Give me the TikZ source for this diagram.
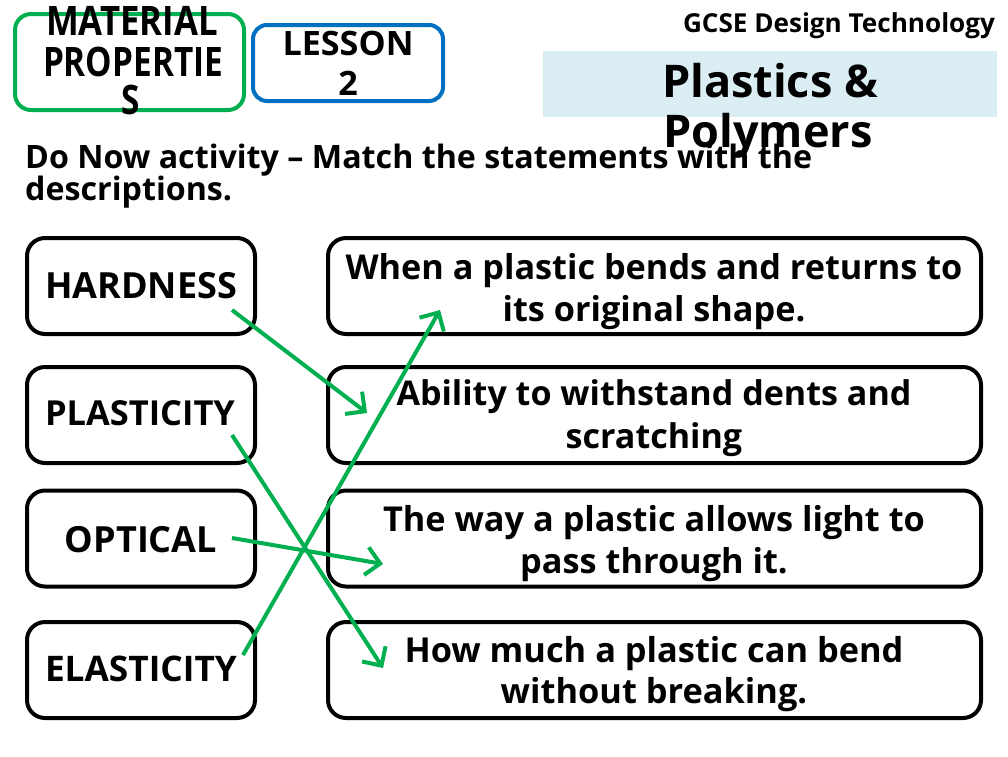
\documentclass[tikz,border=0pt]{standalone}
\usepackage{fontspec}
\usepackage{graphicx}
\setmainfont{Open Sans}
\usetikzlibrary{arrows.meta}
\definecolor{mygreen}{HTML}{00B050}
\definecolor{myblue}{HTML}{0070C0}
\definecolor{lightbluefill}{HTML}{DAEEF3}
\newsavebox\mymeasurebox
\newlength\mycapdim
% scale #3 by the factor that makes #2 exactly #1 pt wide
\newcommand\grpfit[3]{\sbox\mymeasurebox{#2}\pgfmathsetmacro\myfitfac{#1/\wd\mymeasurebox}\scalebox{\myfitfac}{#3}}
\newcommand\wfit[2]{\grpfit{#1}{#2}{#2}}
% width of #3 -> #1 pt, cap height -> #2 pt, applied to #4
\newcommand\grpfitxy[4]{\sbox\mymeasurebox{#3}\setlength\mycapdim{\fontcharht\font`H}%
  \pgfmathsetmacro\myfx{#1/\wd\mymeasurebox}\pgfmathsetmacro\myfy{#2/\mycapdim}\scalebox{\myfx}[\myfy]{#4}}
\begin{document}
\begin{tikzpicture}[x=1pt,y=-1pt,
  boxstyle/.style={draw=black,line width=4pt,rounded corners=18pt,inner sep=0pt},
  txt/.style={font=\bfseries\fontsize{30}{30}\selectfont,inner sep=0pt,anchor=base},
  matcharrow/.style={draw=mygreen,line width=4pt,-{Straight Barb[length=14pt,width=28pt]}}]
\useasboundingbox (0,0) rectangle (1008,756);
\fill[white] (0,0) rectangle (1008,756);
% header
\node[draw=mygreen,line width=4pt,rounded corners=16pt,minimum width=229pt,minimum height=96pt,inner sep=0pt] (matbox) at (129.5,62) {};
\node[txt] (mat1) at (132,35) {\grpfitxy{172}{29}{MATERIAL}{MATERIAL}};
\node[txt] (mat2) at (133,76) {\grpfitxy{180}{29}{PROPERTIE}{PROPERTIE}};
\node[txt] (mat3) at (131,114) {\grpfitxy{180}{29}{PROPERTIE}{S}};
\node[draw=myblue,line width=4pt,rounded corners=14pt,minimum width=190pt,minimum height=76pt,inner sep=0pt] (lesbox) at (348,63) {};
\node[txt] (les1) at (348,55) {\grpfitxy{131}{24}{LESSON}{LESSON}};
\node[txt] (les2) at (348,95) {\grpfitxy{131}{24}{LESSON}{2}};
\node[txt] (gcse) at (839,32) {\wfit{312}{GCSE Design Technology}};
\node[fill=lightbluefill,minimum width=454pt,minimum height=66pt,inner sep=0pt] (titlebg) at (770,84) {};
\node[txt] (pl1) at (770,97) {\wfit{216}{Plastics \&}};
% do now
\node[txt,anchor=base west] (do1) at (25,168) {\wfit{787}{Do Now activity – Match the statements with the}};
\node[txt,anchor=base west] (do2) at (25,200) {\grpfit{787}{Do Now activity – Match the statements with the}{descriptions.}};
\node[txt] (pl2) at (768,147) {\grpfit{216}{Plastics \&}{Polymers}};
% left boxes
\node[boxstyle,minimum width=228pt,minimum height=96pt] (L1) at (141,286) {};
\node[boxstyle,minimum width=228pt,minimum height=96pt] (L2) at (141,415) {};
\node[boxstyle,minimum width=228pt,minimum height=96pt] (L3) at (141,538.5) {};
\node[boxstyle,minimum width=228pt,minimum height=96pt] (L4) at (141,670) {};
\node[txt] (t1) at (141,298) {\wfit{192}{HARDNESS}};
\node[txt] (t2) at (140,425) {\wfit{190}{PLASTICITY}};
\node[txt] (t3) at (141,552) {\grpfit{192}{HARDNESS}{OPTICAL}};
\node[txt] (t4) at (141,681) {\wfit{192}{ELASTICITY}};
% right boxes
\node[boxstyle,minimum width=653pt,minimum height=96pt] (R1) at (654.5,286) {};
\node[boxstyle,minimum width=653pt,minimum height=96pt] (R2) at (654.5,415) {};
\node[boxstyle,minimum width=653pt,minimum height=96pt] (R3) at (654.5,538.5) {};
\node[boxstyle,minimum width=653pt,minimum height=96pt] (R4) at (654.5,670) {};
\node[txt] (r1a) at (654,279) {\wfit{617}{When a plastic bends and returns to}};
\node[txt] (r1b) at (654,321) {\grpfit{617}{When a plastic bends and returns to}{its original shape.}};
\node[txt] (r2a) at (654,405) {\wfit{515}{Ability to withstand dents and}};
\node[txt] (r2b) at (654,448) {\grpfit{515}{Ability to withstand dents and}{scratching}};
\node[txt] (r3a) at (654,531) {\wfit{542}{The way a plastic allows light to}};
\node[txt] (r3b) at (654,573) {\grpfit{542}{The way a plastic allows light to}{pass through it.}};
\node[txt] (r4a) at (654,662) {\wfit{499}{How much a plastic can bend}};
\node[txt] (r4b) at (654,703) {\grpfit{499}{How much a plastic can bend}{without breaking.}};
% arrow ends
\coordinate (s1) at (232,310);
\coordinate (e1) at (367,413);
\coordinate (s2) at (232,435);
\coordinate (e2) at (383,668);
\coordinate (s3) at (232,538);
\coordinate (e3) at (383,564);
\coordinate (s4) at (243,655);
\coordinate (e4) at (440,310);
\draw[matcharrow] (s1) -- (e1);
\draw[matcharrow] (s2) -- (e2);
\draw[matcharrow] (s3) -- (e3);
\draw[matcharrow] (s4) -- (e4);
\end{tikzpicture}
\end{document}
